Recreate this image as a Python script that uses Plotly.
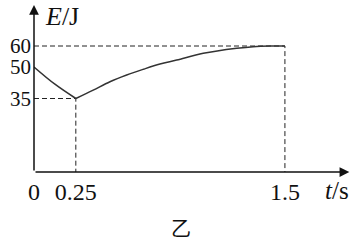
import plotly.graph_objects as go

# data
t_fall = [0.0, 0.125, 0.25]
e_fall = [50.0, 41.8, 35.0]
t_rise = [0.25, 0.354, 0.454, 0.554, 0.653, 0.753, 0.853, 1.012, 1.212, 1.311, 1.411, 1.5]
e_rise = [35.0, 39.0, 43.0, 46.2, 48.9, 51.4, 53.3, 56.5, 58.9, 59.7, 60.0, 60.0]
x_ticks = [0, 0.25, 1.5]
x_ticktext = ["0", "0.25", "1.5"]
y_ticks = [35, 50, 60]
y_ticktext = ["35", "50", "60"]
t_min, e_min = 0.25, 35
t_end, e_end = 1.5, 60

FONT = "Liberation Serif"
dash_col = "#222"

fig = go.Figure()
# dashed guide lines
fig.add_trace(go.Scatter(x=[0, t_end, t_end], y=[e_end, e_end, 0], mode="lines",
                         line=dict(color=dash_col, width=1, dash="5px,3px"), hoverinfo="skip"))
fig.add_trace(go.Scatter(x=[0, t_min, t_min], y=[e_min, e_min, 0], mode="lines",
                         line=dict(color=dash_col, width=1, dash="5px,3px"), hoverinfo="skip"))
# curve
fig.add_trace(go.Scatter(x=t_fall, y=e_fall, mode="lines", line=dict(color="#333", width=1.5, shape="spline"),
                         hoverinfo="skip"))
fig.add_trace(go.Scatter(x=t_rise, y=e_rise, mode="lines", line=dict(color="#333", width=1.5, shape="spline", smoothing=1.0),
                         hoverinfo="skip"))

x_max, y_max = 1.901, 80.0
ann = []
# axes with arrows
ann.append(dict(x=1.885, y=0, ax=0, ay=0, xref="x", yref="y", axref="x", ayref="y", text="",
                showarrow=True, arrowhead=2, arrowsize=1.3, arrowwidth=1.5, arrowcolor="#111"))
ann.append(dict(x=0, y=79.5, ax=0, ay=0, xref="x", yref="y", axref="x", ayref="y", text="",
                showarrow=True, arrowhead=2, arrowsize=1.3, arrowwidth=1.5, arrowcolor="#111"))
ann.append(dict(x=0.055, y=74.0, xref="x", yref="y", text="<i>E</i>/J", showarrow=False,
                xanchor="left", yanchor="middle", font=dict(family=FONT, size=26, color="#111")))
ann.append(dict(x=1.81, y=0, xref="x", yref="y", yshift=-18, text="<i>t</i>/s", showarrow=False,
                xanchor="center", yanchor="middle", font=dict(family=FONT, size=25, color="#111")))
ann.append(dict(x=0.462, y=-0.33, xref="paper", yref="paper", text="乙", showarrow=False,
                xanchor="center", yanchor="middle", font=dict(family="Noto Sans CJK SC", size=20, color="#111")))

fig.update_layout(
    width=356, height=244, margin=dict(l=34, r=4, t=4, b=72),
    paper_bgcolor="white", plot_bgcolor="white", showlegend=False,
    annotations=ann,
    xaxis=dict(range=[0, x_max], tickvals=x_ticks, ticktext=x_ticktext, showgrid=False,
               zeroline=False, showline=False, ticks="", ticklabelstandoff=3,
               tickfont=dict(family=FONT, size=24, color="#111")),
    yaxis=dict(range=[0, y_max], tickvals=y_ticks, ticktext=y_ticktext, showgrid=False,
               zeroline=False, showline=False, ticks="", ticklabelstandoff=2,
               tickfont=dict(family=FONT, size=21, color="#111")),
)
fig.write_html("out.html")
